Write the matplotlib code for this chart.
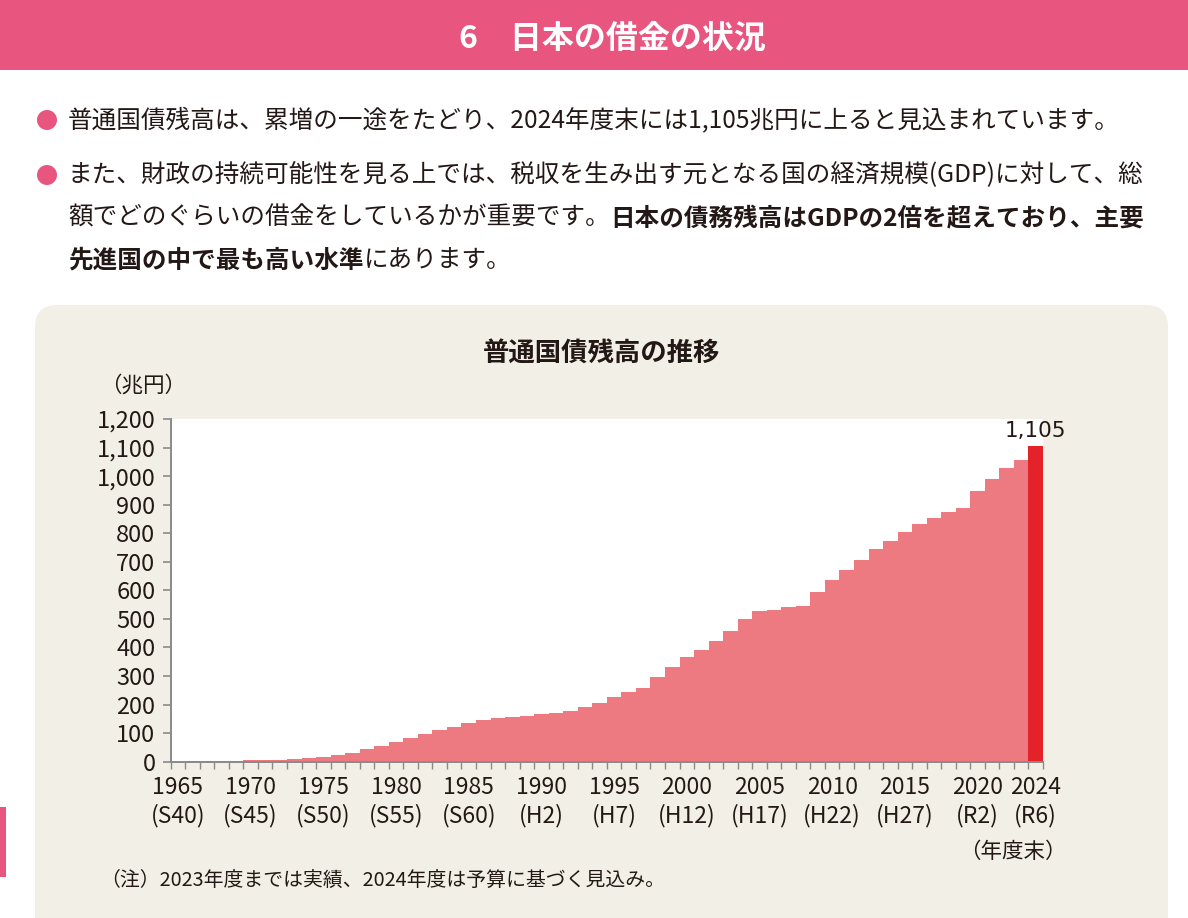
import matplotlib.pyplot as plt
from matplotlib.patches import Rectangle, FancyBboxPatch, Circle

# data (兆円, 年度末)
years = list(range(1965, 2025))
debt = [0.2, 0.9, 1.8, 2.8, 3.6, 4.3, 5.3, 7.3, 9.8, 12.2,
        15.2, 22.1, 31.9, 43.0, 56.3, 70.5, 82.3, 96.5, 109.7, 121.7,
        134.4, 145.1, 151.8, 156.8, 160.9, 166.3, 171.6, 178.4, 192.5, 206.6,
        225.2, 244.7, 258.0, 295.2, 331.7, 367.6, 392.4, 421.1, 456.9, 499.0,
        526.9, 531.7, 541.5, 545.9, 593.8, 636.3, 669.9, 705.0, 743.9, 774.1,
        805.4, 830.6, 853.2, 874.0, 886.7, 946.6, 991.4, 1027.0, 1055.0, 1105.0]
label_years = [1965, 1970, 1975, 1980, 1985, 1990, 1995, 2000, 2005, 2010, 2015, 2020, 2024]
era_labels = ['S40', 'S45', 'S50', 'S55', 'S60', 'H2', 'H7', 'H12', 'H17', 'H22', 'H27', 'R2', 'R6']
yticks = list(range(0, 1201, 100))

PINK = '#E8557F'
BAR = '#EC7A80'
BAR_LAST = '#E3222A'
BEIGE = '#F2F0E6'
TXT = '#231815'
JP = ['Noto Sans CJK JP', 'DejaVu Sans']
NUM = ['Noto Sans CJK JP', 'DejaVu Sans']

W, H = 1188, 918
fig = plt.figure(figsize=(W / 100, H / 100), dpi=100)
inch = fig.dpi_scale_trans

def add_bg(p):
    p.set_zorder(-5)
    fig.add_artist(p)

# header band, beige panel, side mark
add_bg(Rectangle((0, (H - 70) / 100), W / 100, 0.70, transform=inch, color=PINK, lw=0))
add_bg(FancyBboxPatch((0.35, -0.5), 11.33, (H - 305) / 100 + 0.5, transform=inch,
                      boxstyle='round,pad=0,rounding_size=0.22', fc=BEIGE, ec='none'))
add_bg(Rectangle((0, (H - 877) / 100), 0.06, 0.70, transform=inch, color=PINK, lw=0))
for cy in (120, 175):
    add_bg(Circle((0.47, (H - cy) / 100), 0.10, transform=inch, color=PINK, lw=0))

# overlay axes in pixel coords for the page text
t = fig.add_axes([0, 0, 1, 1], zorder=5)
t.axis('off')
t.set_xlim(0, W)
t.set_ylim(H, 0)

t.text(612, 39, '6\u3000日本の借金の状況', color='white', fontsize=23, fontweight='bold',
       family=JP, ha='center', va='center')

renderer = fig.canvas.get_renderer()

def line(x, y, parts):
    # segments share one baseline; each starts where the previous one ended
    for s, bold in parts:
        txt = t.text(x, y + 7, s, ha='left', va='baseline', fontsize=17.7, color=TXT,
                     family=JP, fontweight='bold' if bold else 'normal')
        bb = txt.get_window_extent(renderer)
        x = t.transData.inverted().transform((bb.x1, bb.y0))[0]

line(68, 120, [('普通国債残高は、累増の一途をたどり、2024年度末には1,105兆円に上ると見込まれています。', False)])
line(68, 175, [('また、財政の持続可能性を見る上では、税収を生み出す元となる国の経済規模(GDP)に対して、総', False)])
line(68, 218, [('額でどのぐらいの借金をしているかが重要です。', False),
               ('日本の債務残高はGDPの2倍を超えており、主要', True)])
line(68, 260, [('先進国の中で最も高い水準', True), ('にあります。', False)])

t.text(602, 353, '普通国債残高の推移', fontsize=19, fontweight='bold', color=TXT,
       family=JP, ha='center', va='center')
t.text(100, 386, '（兆円）', fontsize=15.5, color=TXT, family=JP, ha='left', va='center')
t.text(1067, 852, '（年度末）', fontsize=15.5, color=TXT, family=JP, ha='right', va='center')
t.text(100, 880, '（注）2023年度までは実績、2024年度は予算に基づく見込み。', fontsize=14.3,
       color=TXT, family=JP, ha='left', va='center')

# chart
x0, x1, yb, yt = 170.7, 1043, 761.7, 419
ax = fig.add_axes([x0 / W, 1 - yb / H, (x1 - x0) / W, (yb - yt) / H])
ax.set_facecolor('white')
idx = list(range(len(years)))
colors = [BAR] * (len(years) - 1) + [BAR_LAST]
ax.bar(idx, debt, width=1.0, color=colors, linewidth=0)
ax.set_xlim(-0.5, len(years) - 0.5)
ax.set_ylim(0, 1200)

for s in ('top', 'right'):
    ax.spines[s].set_visible(False)
for s in ('left', 'bottom'):
    ax.spines[s].set_color('#8a8a8a')
    ax.spines[s].set_linewidth(1.4)

ax.set_yticks(yticks)
ax.set_yticklabels([f'{v:,}' for v in yticks], family=NUM, fontsize=17, color=TXT)
ax.tick_params(axis='y', direction='out', length=6, width=1.2, color='#8a8a8a', pad=5)

ax.set_xticks([years.index(y) for y in label_years])
ax.set_xticklabels([f'{y}\n({e})' for y, e in zip(label_years, era_labels)],
                   family=NUM, fontsize=16.5, color=TXT, linespacing=1.25)
ax.tick_params(axis='x', which='major', length=0, pad=10)
ax.set_xticks([i - 0.5 for i in range(len(years) + 1)], minor=True)
ax.tick_params(axis='x', which='minor', direction='out', length=5, width=1.0, color='#8a8a8a')

ax.text(idx[-1], debt[-1] + 18, f'{debt[-1]:,.0f}', ha='center', va='bottom',
        fontsize=15.5, color=TXT, family=['DejaVu Sans'])

fig.savefig('out.png', dpi=100)
